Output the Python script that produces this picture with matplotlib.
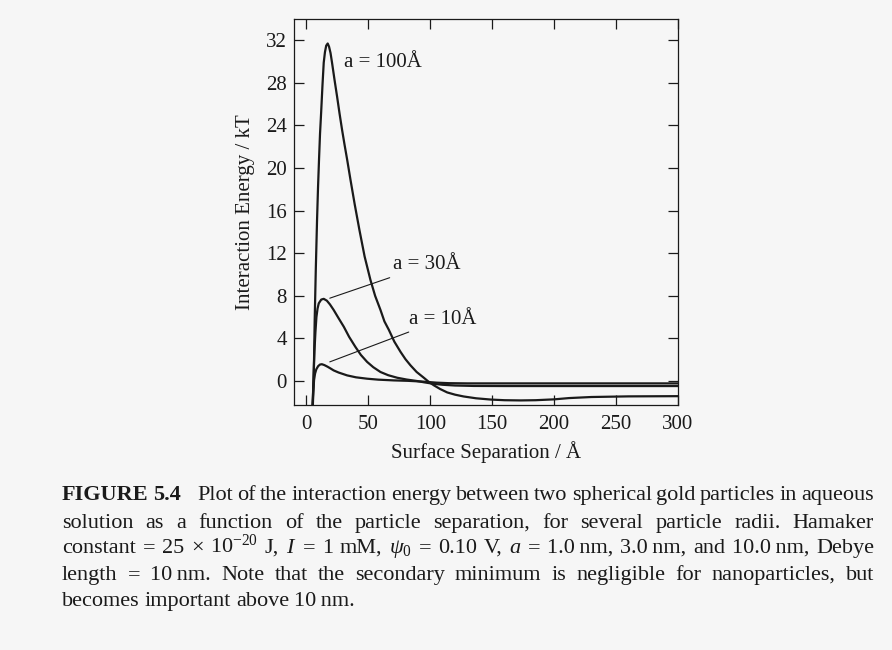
import matplotlib
matplotlib.use("Agg")
import matplotlib.pyplot as plt
from matplotlib.transforms import IdentityTransform

plt.rcParams['font.family'] = ['Liberation Serif', 'DejaVu Serif']
plt.rcParams['mathtext.fontset'] = 'custom'
plt.rcParams['mathtext.rm'] = 'Liberation Serif'
plt.rcParams['mathtext.it'] = 'Liberation Serif:italic'
plt.rcParams['mathtext.bf'] = 'Liberation Serif:bold'

# Curves (separation in Angstrom, energy in kT)
x_100 = [4.6, 5.9, 6.7, 7.6, 8.6, 9.4, 10.2, 11.0, 11.9, 13.0, 14.0, 15.0, 16.0, 17.2,
         18.3, 19.5, 20.7, 22.7, 24.8, 26.8, 28.8, 30.8, 32.9, 35.6, 39.0, 42.8, 47.0,
         51.7, 55.5, 59.8, 63.0, 66.6, 71.0, 76.0, 80.0, 84.0, 89.0, 94.9, 98.5, 102.9,
         108, 113.7, 120, 127, 137, 149, 160, 173, 185, 200, 212, 230, 260, 300]
y_100 = [-3.0, 0.0, 5.7, 10.5, 15.1, 18.2, 20.8, 23.2, 25.2, 27.8, 29.9, 30.9, 31.5, 31.7,
         31.4, 30.8, 29.9, 28.3, 26.7, 25.1, 23.6, 22.2, 20.8, 18.9, 16.6, 14.2, 11.7,
         9.5, 8.0, 6.68, 5.6, 4.8, 3.7, 2.74, 2.05, 1.48, 0.85, 0.3, -0.05, -0.4,
         -0.75, -1.07, -1.28, -1.45, -1.62, -1.74, -1.8, -1.82, -1.8, -1.72, -1.6, -1.5,
         -1.44, -1.42]

x_30 = [5.0, 5.6, 6.5, 7.3, 8.1, 9.0, 10.0, 12.0, 14.0, 16.5, 19.0, 22.0, 26.0, 30.2,
        34.5, 39.6, 44.0, 49.0, 54.0, 59.8, 66.0, 73.3, 81.0, 89.5, 95.0, 102, 110, 120,
        135, 160, 200, 250, 300]
y_30 = [-3.0, 0.0, 2.8, 4.6, 6.0, 6.8, 7.3, 7.65, 7.72, 7.55, 7.2, 6.68, 5.9, 5.1,
        4.15, 3.2, 2.45, 1.8, 1.3, 0.85, 0.55, 0.31, 0.14, 0.0, -0.12, -0.25, -0.35, -0.42,
        -0.46, -0.47, -0.47, -0.47, -0.47]

x_10 = [5.0, 5.6, 6.2, 7.0, 8.0, 9.5, 11.0, 12.5, 14.5, 17.0, 19.5, 22.0, 26.0, 32.9,
        40.0, 49.0, 58.0, 70.6, 82.0, 95.0, 105, 115, 130, 160, 200, 250, 300]
y_10 = [-3.0, -1.0, 0.1, 0.7, 1.1, 1.4, 1.55, 1.58, 1.5, 1.35, 1.18, 1.0, 0.8, 0.53,
        0.35, 0.22, 0.13, 0.06, 0.02, -0.06, -0.15, -0.2, -0.22, -0.22, -0.22, -0.22, -0.22]

labels = ["a = 100Å", "a = 30Å", "a = 10Å"]
x_ticks = [0, 50, 100, 150, 200, 250, 300]
y_ticks = [0, 4, 8, 12, 16, 20, 24, 28, 32]

caption_label = "FIGURE 5.4"
caption_lines = [
    "Plot of the interaction energy between two spherical gold particles in aqueous",
    "solution as a function of the particle separation, for several particle radii. Hamaker",
    "constant = 25 × $10^{-20}$ J, $I$ = 1 mM, $\\psi_0$ = 0.10 V, $a$ = 1.0\u2009nm, "
    "3.0\u2009nm, and 10.0\u2009nm, Debye",
    "length = 10\u2009nm. Note that the secondary minimum is negligible for nanoparticles, but",
    "becomes important above 10\u2009nm.",
]

W, H = 892, 650
fig = plt.figure(figsize=(W / 100, H / 100), dpi=100, facecolor='#f6f6f6')
ax = fig.add_axes([294 / W, 1 - 405 / H, 384 / W, 386 / H])
ax.set_facecolor('none')

for xs, ys in [(x_100, y_100), (x_30, y_30), (x_10, y_10)]:
    ax.plot(xs, ys, color='#1a1a1a', lw=1.6, solid_joinstyle='round')

ax.set_xlim(-10, 300)
ax.set_ylim(-2.25, 34)
ax.set_xticks(x_ticks)
ax.set_yticks(y_ticks)
ax.tick_params(direction='in', top=True, right=True, length=7, width=0.9,
               labelsize=15, colors='#1a1a1a')
ax.tick_params(axis='x', pad=7)
ax.tick_params(axis='y', pad=5)
for s in ax.spines.values():
    s.set_linewidth(0.9)
    s.set_color('#1a1a1a')

ax.set_xlabel("Surface Separation / Å", fontsize=15, labelpad=5, color='#1a1a1a')
ax.set_ylabel("Interaction Energy / kT", fontsize=15, labelpad=8, color='#1a1a1a')

# curve labels
ax.text(30.7, 29.9, labels[0], fontsize=15, va='center', ha='left', color='#1a1a1a')
ax.annotate(labels[1], xy=(18.9, 7.78), xytext=(70, 10.9), fontsize=15, va='center',
            ha='left', color='#1a1a1a',
            arrowprops=dict(arrowstyle='-', lw=0.8, color='#1a1a1a', shrinkA=1, shrinkB=0))
ax.annotate(labels[2], xy=(18.9, 1.8), xytext=(82.7, 5.8), fontsize=15, va='center',
            ha='left', color='#1a1a1a',
            arrowprops=dict(arrowstyle='-', lw=0.8, color='#1a1a1a', shrinkA=1, shrinkB=0))

# caption, set as a justified paragraph
renderer = fig.canvas.get_renderer()
x_left, x_right = 62, 874
baselines = [500, 528, 553, 580, 606]
fs = 16


def put_line(tokens, y, justify):
    items = []
    for txt, weight, extra in tokens:
        t = fig.text(0, H - y, txt, fontsize=fs, fontweight=weight, va='baseline',
                     ha='left', transform=IdentityTransform(), color='#1a1a1a')
        items.append((t, t.get_window_extent(renderer).width, extra))
    total = sum(w for _, w, _ in items) + sum(e for _, _, e in items)
    if justify:
        gap = (x_right - x_left - total) / (len(items) - 1)
    else:
        gap = 5
    x = x_left
    for t, w, extra in items:
        x += extra
        t.set_x(x)
        x += w + gap


for i, line in enumerate(caption_lines):
    toks = []
    if i == 0:
        for w in caption_label.split(" "):
            toks.append((w, 'bold', 0))
    for j, w in enumerate(line.split(" ")):
        toks.append((w, 'normal', 12 if (i == 0 and j == 0) else 0))
    put_line(toks, baselines[i], i < len(caption_lines) - 1)

fig.savefig("out.png", dpi=100, facecolor=fig.get_facecolor())
